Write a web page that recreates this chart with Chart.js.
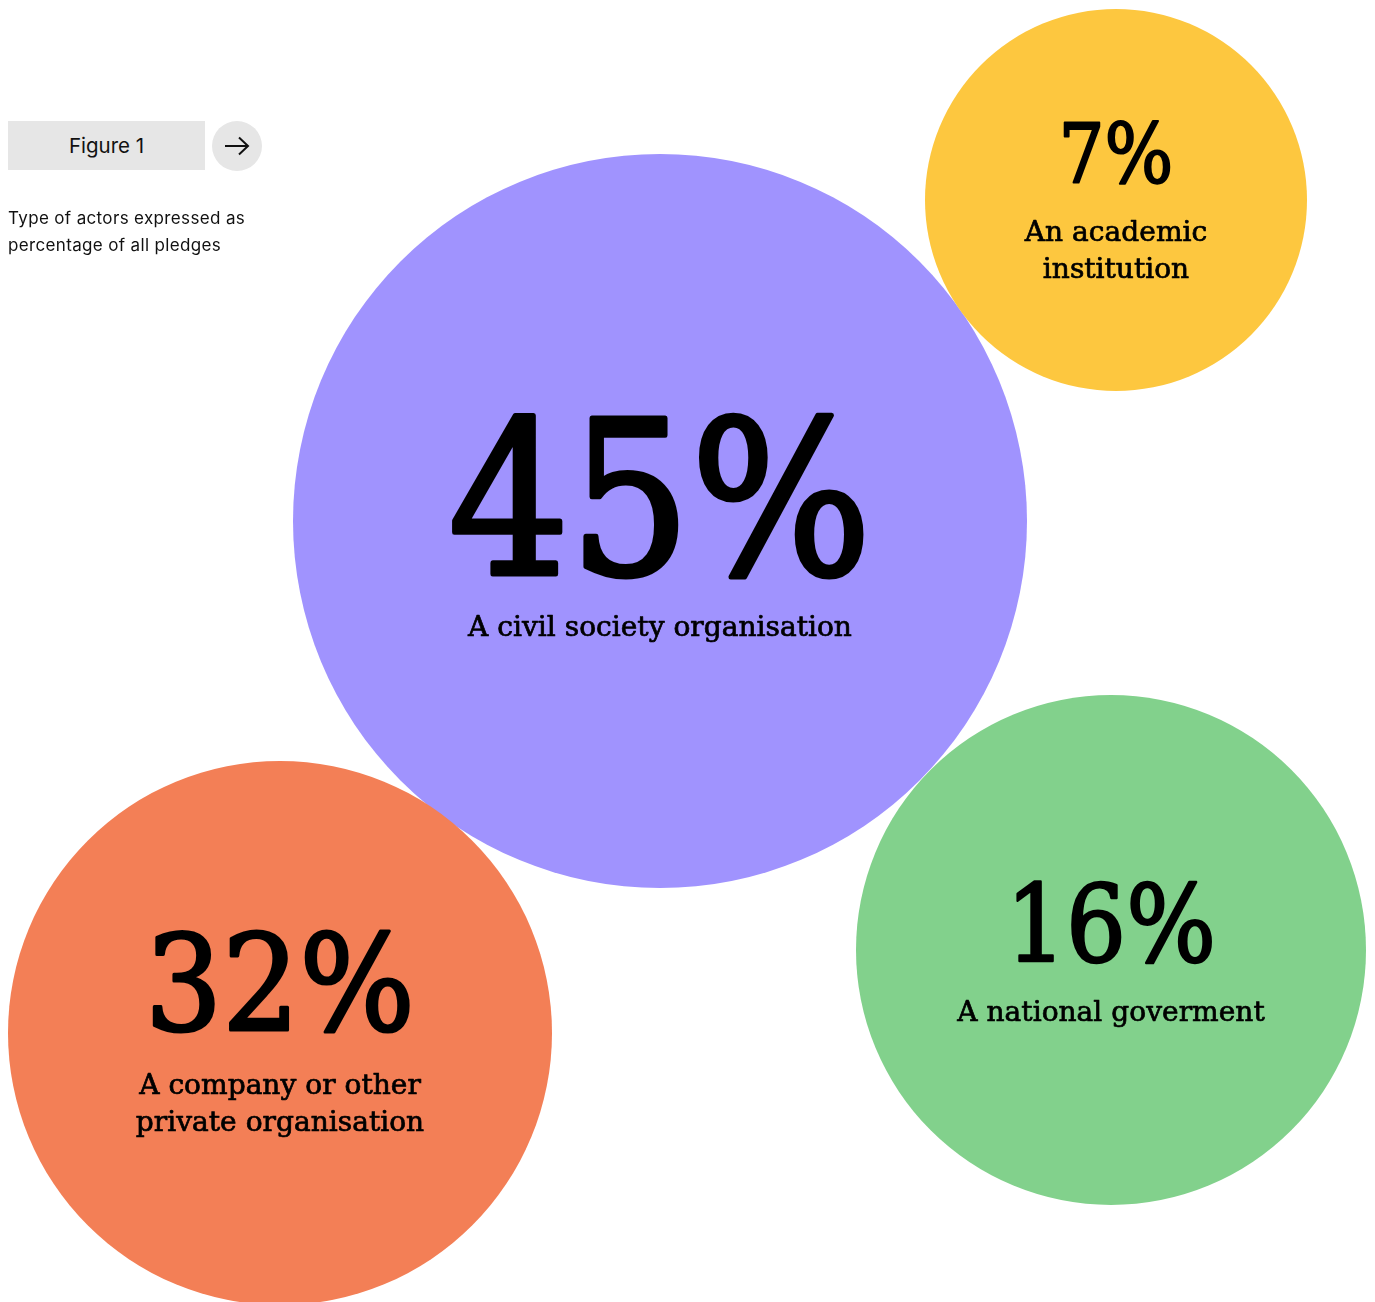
<!DOCTYPE html>
<html>
<head>
<meta charset="utf-8">
<script src="https://cdn.jsdelivr.net/npm/chart.js@4.4.1/dist/chart.umd.min.js"></script>
<style>
  html, body { margin: 0; padding: 0; background: #ffffff; }
  #wrap { position: relative; width: 1375px; height: 1302px; overflow: hidden; }
  #chart { position: absolute; left: 0; top: 0; }
  .fig { position: absolute; left: 8px; top: 121px; width: 197px; height: 49px; background: #e6e6e6;
         font-family: Inter, "Noto Sans", sans-serif; font-size: 20.5px; color: #111; display: flex;
         align-items: center; justify-content: center; letter-spacing: 0px; }
  .arrow { position: absolute; left: 212px; top: 121px; width: 50px; height: 50px; border-radius: 50%;
           background: #e6e6e6; display: flex; align-items: center; justify-content: center; }
  .desc { position: absolute; left: 8px; top: 205px; font-family: Inter, "Noto Sans", sans-serif;
          font-size: 17px; line-height: 27px; color: #111; letter-spacing: 0.35px; }
</style>
</head>
<body>
<div id="wrap">
  <canvas id="chart" width="1375" height="1302"></canvas>
  <div class="fig">Figure 1</div>
  <div class="arrow">
    <svg width="26" height="20" viewBox="0 0 26 20"><path d="M1 10 H24 M15 1.5 L24 10 L15 18.5" fill="none" stroke="#111" stroke-width="2"/></svg>
  </div>
  <div class="desc">Type of actors expressed as<br>percentage of all pledges</div>
</div>
<script>
// ---- data ----
const categories = [
  ["A civil society organisation"],
  ["A company or other", "private organisation"],
  ["A national goverment"],
  ["An academic", "institution"]
];
const percentages = [45, 32, 16, 7];
const bubbleX = [660, 280, 1111, 1116];
const bubbleY = [521, 1033, 950, 200];
const bubbleR = [367, 272, 255, 191];

// ---- styles ----
const colors = ["#A093FE", "#F37F56", "#82D18C", "#FDC73F"];
const textStyle = [
  { pctSize: 214, pctWidth: 423, pctBase: 56, lblBase: 115 },
  { pctSize: 132, pctWidth: 270, pctBase: -1, lblBase: 61 },
  { pctSize: 106, pctWidth: 210, pctBase: 12, lblBase: 71 },
  { pctSize: 82, pctWidth: 115, pctBase: -16, lblBase: 41 }
];
const labelSize = 27;
const labelLineGap = 37;
const labelScaleX = 1.04;
const serif = '"DejaVu Serif", serif';

const bubbleText = {
  id: 'bubbleText',
  afterDatasetsDraw(chart) {
    const ctx = chart.ctx;
    const meta = chart.getDatasetMeta(0);
    meta.data.forEach((el, i) => {
      const st = textStyle[i];
      ctx.save();
      ctx.fillStyle = '#000';
      ctx.strokeStyle = '#000';
      ctx.lineJoin = 'round';
      ctx.textAlign = 'center';
      ctx.textBaseline = 'alphabetic';
      const txt = percentages[i] + '%';
      ctx.font = st.pctSize + 'px ' + serif;
      const w = ctx.measureText(txt).width;
      const sx = st.pctWidth / w;
      ctx.save();
      ctx.translate(el.x, el.y + st.pctBase);
      ctx.scale(sx, 1);
      ctx.lineWidth = st.pctSize * 0.024;
      ctx.fillText(txt, 0, -ctx.lineWidth / 2);
      ctx.strokeText(txt, 0, -ctx.lineWidth / 2);
      ctx.restore();
      ctx.font = labelSize + 'px ' + serif;
      ctx.lineWidth = 0.7;
      categories[i].forEach((line, j) => {
        ctx.save();
        ctx.translate(el.x, el.y + st.lblBase + j * labelLineGap);
        ctx.scale(labelScaleX, 1);
        ctx.fillText(line, 0, 0);
        ctx.strokeText(line, 0, 0);
        ctx.restore();
      });
      ctx.restore();
    });
  }
};

new Chart(document.getElementById('chart'), {
  type: 'bubble',
  data: {
    datasets: [{
      data: percentages.map((v, i) => ({ x: bubbleX[i], y: bubbleY[i], r: bubbleR[i], v })),
      backgroundColor: colors,
      borderWidth: 0,
      hoverBorderWidth: 0,
      clip: false
    }]
  },
  options: {
    responsive: false,
    animation: false,
    events: [],
    layout: { padding: 0, autoPadding: false },
    plugins: { legend: { display: false }, tooltip: { enabled: false } },
    scales: {
      x: { type: 'linear', min: 0, max: 1375, display: false },
      y: { type: 'linear', min: 0, max: 1302, reverse: true, display: false }
    }
  },
  plugins: [bubbleText]
});
</script>
</body>
</html>
